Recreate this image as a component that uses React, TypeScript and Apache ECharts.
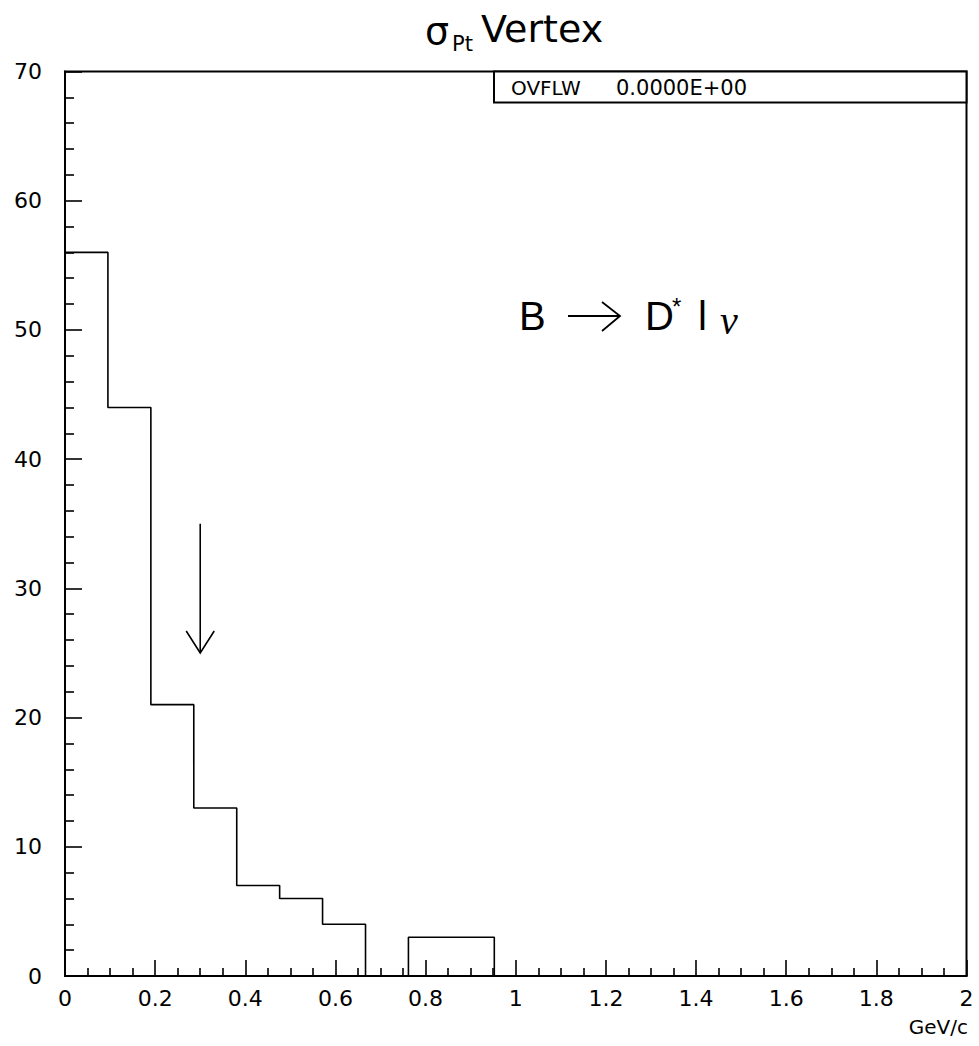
import React, { useEffect, useRef } from "react";
import * as echarts from "echarts";

// Histogram bins (GeV/c) and entries per bin
const binEdges = [0, 0.0952, 0.1905, 0.2857, 0.381, 0.4762, 0.5714, 0.6667, 0.7619, 0.8571, 0.9524];
const counts = [56, 44, 21, 13, 7, 6, 4, 0, 3, 3];

// Cut marker: x position, start and end heights
const cutArrow = [[0.3, 35, 25]];

const xTickLabels = ["0", "0.2", "0.4", "0.6", "0.8", "1", "1.2", "1.4", "1.6", "1.8", "2"];
const yTickLabels = ["0", "10", "20", "30", "40", "50", "60", "70"];

const FONT = "'DejaVu Sans', sans-serif";
const FONT_B = "'Liberation Sans', Arial, sans-serif";

export default function App() {
  const ref = useRef<HTMLDivElement>(null);

  useEffect(() => {
    if (!ref.current) return;
    const chart = echarts.init(ref.current, undefined, { renderer: "svg" });

    const stepData: number[][] = counts.map((c, i) => [binEdges[i], c]);
    stepData.push([binEdges[binEdges.length - 1], 0]);

    chart.setOption({
      animation: false,
      backgroundColor: "#fff",
      grid: {
        left: 65,
        right: 12.5,
        top: 71.5,
        bottom: 70,
        show: true,
        borderColor: "#000",
        borderWidth: 2,
        backgroundColor: "transparent",
      },
      xAxis: {
        type: "value",
        min: 0,
        max: 2,
        interval: 0.2,
        axisLine: { show: true, lineStyle: { color: "#000", width: 2 } },
        axisTick: { show: true, inside: true, length: 16, lineStyle: { color: "#000", width: 1.6 } },
        minorTick: { show: true, splitNumber: 4, length: 8, lineStyle: { color: "#000", width: 1.6 } },
        splitLine: { show: false },
        minorSplitLine: { show: false },
        axisLabel: {
          margin: 11,
          color: "#000",
          fontSize: 22,
          fontFamily: FONT,
          formatter: (v: number) => xTickLabels[Math.round(v / 0.2)] ?? "",
        },
      },
      yAxis: {
        type: "value",
        min: 0,
        max: 70,
        interval: 10,
        axisLine: { show: true, lineStyle: { color: "#000", width: 2 } },
        axisTick: { show: true, inside: true, length: 17, lineStyle: { color: "#000", width: 1.6 } },
        minorTick: { show: true, splitNumber: 5, length: 9, lineStyle: { color: "#000", width: 1.6 } },
        splitLine: { show: false },
        minorSplitLine: { show: false },
        axisLabel: {
          margin: 23,
          color: "#000",
          fontSize: 22,
          fontFamily: FONT,
          formatter: (v: number) => yTickLabels[Math.round(v / 10)] ?? "",
        },
      },
      series: [
        {
          type: "line",
          step: "end",
          data: stepData,
          showSymbol: false,
          symbol: "none",
          lineStyle: { color: "#000", width: 1.6 },
          z: 3,
        },
        {
          type: "custom",
          coordinateSystem: "cartesian2d",
          data: cutArrow,
          encode: { x: 0, y: [1, 2] },
          renderItem: (params: any, api: any) => {
            const x = api.value(0);
            const top = api.coord([x, api.value(1)]);
            const tip = api.coord([x, api.value(2)]);
            const style = { stroke: "#000", lineWidth: 1.6, fill: "none" };
            return {
              type: "group",
              children: [
                { type: "line", shape: { x1: top[0], y1: top[1], x2: tip[0], y2: tip[1] }, style },
                {
                  type: "polyline",
                  shape: {
                    points: [
                      [tip[0] - 14, tip[1] - 22],
                      [tip[0], tip[1]],
                      [tip[0] + 14, tip[1] - 22],
                    ],
                  },
                  style,
                },
              ],
            };
          },
          z: 4,
        },
      ],
      graphic: [
        // title: sigma_Pt Vertex
        { type: "text", x: 425, y: 31, style: { text: "σ", fontSize: 38, fontFamily: FONT, fill: "#000", verticalAlign: "middle" } },
        { type: "text", x: 452, y: 44, style: { text: "Pt", fontSize: 21, fontFamily: FONT, fill: "#000", verticalAlign: "middle" } },
        { type: "text", x: 481, y: 29, style: { text: "Vertex", fontSize: 38, fontFamily: FONT, fill: "#000", verticalAlign: "middle" } },
        // overflow box
        {
          type: "rect",
          shape: { x: 494, y: 71.5, width: 472.5, height: 31 },
          style: { fill: "#fff", stroke: "#000", lineWidth: 2 },
          z: 10,
        },
        { type: "text", x: 511, y: 88, style: { text: "OVFLW", fontSize: 20, fontFamily: FONT, fill: "#000", verticalAlign: "middle" }, z: 11 },
        { type: "text", x: 616, y: 88, style: { text: "0.0000E+00", fontSize: 21, fontFamily: FONT, fill: "#000", verticalAlign: "middle" }, z: 11 },
        // decay label
        { type: "text", x: 519, y: 316, style: { text: "B", fontSize: 40, fontFamily: FONT_B, fill: "#000", verticalAlign: "middle" } },
        { type: "line", shape: { x1: 568, y1: 316, x2: 620, y2: 316 }, style: { stroke: "#000", lineWidth: 1.8 } },
        { type: "polyline", shape: { points: [[602, 302], [620, 316], [602, 331]] }, style: { stroke: "#000", lineWidth: 1.8, fill: "none" } },
        { type: "text", x: 645, y: 316, style: { text: "D", fontSize: 40, fontFamily: FONT_B, fill: "#000", verticalAlign: "middle" } },
        { type: "text", x: 672, y: 306, style: { text: "*", fontSize: 24, fontFamily: FONT_B, fill: "#000", verticalAlign: "middle" } },
        { type: "text", x: 698, y: 316, style: { text: "l", fontSize: 40, fontFamily: FONT_B, fill: "#000", verticalAlign: "middle" } },
        { type: "text", x: 720, y: 320, style: { text: "ν", fontSize: 40, fontStyle: "italic", fontFamily: "'Liberation Serif', serif", fill: "#000", verticalAlign: "middle" } },
        // axis unit
        { type: "text", x: 968, y: 1027, style: { text: "GeV/c", fontSize: 20, fontFamily: FONT, fill: "#000", align: "right", verticalAlign: "middle" } },
      ],
    });

    return () => chart.dispose();
  }, []);

  return (
    <div
      ref={ref}
      style={{ position: "fixed", left: 0, top: 0, width: 979, height: 1046, background: "#fff" }}
    />
  );
}
